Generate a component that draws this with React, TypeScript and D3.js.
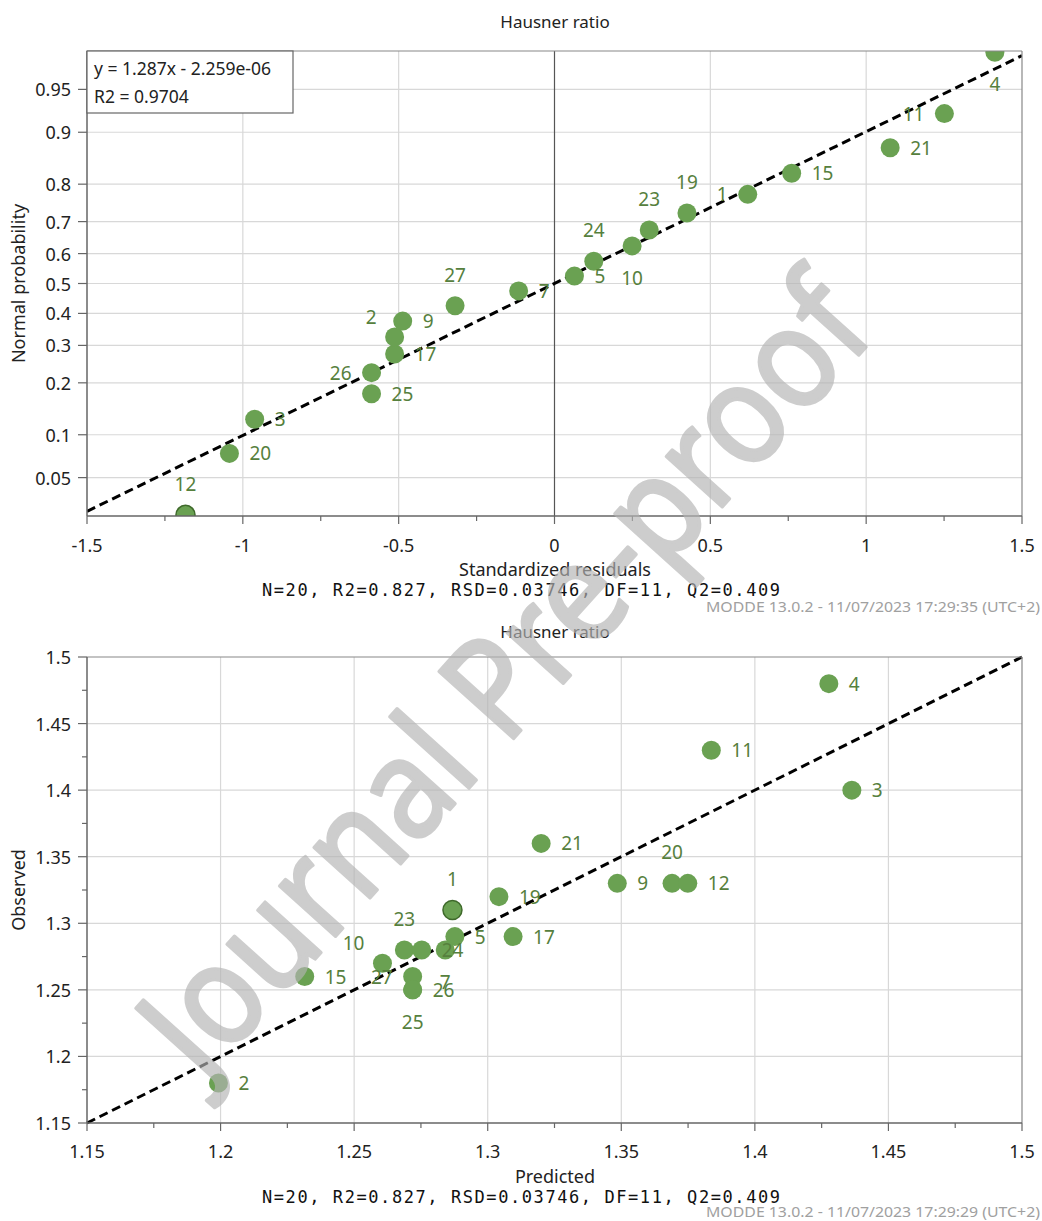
import React from "react";
import * as d3 from "d3";

// ---------- Data: normal probability plot (top) ----------
const npLabels = ["12","20","3","25","26","17","2","9","27","7","5","24","10","23","19","1","15","21","11","4"];
const npResiduals = [-1.184,-1.043,-0.962,-0.587,-0.587,-0.513,-0.513,-0.487,-0.319,-0.115,0.064,0.126,0.249,0.304,0.425,0.620,0.761,1.077,1.251,1.413];
const npProbability = [0.025,0.075,0.125,0.175,0.225,0.275,0.325,0.375,0.425,0.475,0.525,0.575,0.625,0.675,0.725,0.775,0.825,0.875,0.925,0.975];
const npLabelPlace = ["a","r","r","r","l","r","ul","r","a","r","r","a","b","a","a","l","r","r","l","b"];
const npSelected = ["12"];
const npXTicks = [-1.5,-1,-0.5,0,0.5,1,1.5];
const npYTicks = [0.05,0.1,0.2,0.3,0.4,0.5,0.6,0.7,0.8,0.9,0.95];
const npFitSlope = 1.287;
const npFitIntercept = -2.259e-6;
const npLegend = ["y = 1.287x - 2.259e-06", "R2 = 0.9704"];

// ---------- Data: observed vs predicted (bottom) ----------
const opLabels = ["4","11","3","21","9","20","12","1","19","5","17","23","24","7","10","27","26","25","15","2"];
const opPredicted = [1.4277,1.3837,1.4363,1.320,1.3485,1.369,1.3749,1.2868,1.3042,1.2877,1.3095,1.2688,1.2753,1.2841,1.2606,1.2719,1.2719,1.2719,1.2315,1.1992];
const opObserved = [1.48,1.43,1.40,1.36,1.33,1.33,1.33,1.31,1.32,1.29,1.29,1.28,1.28,1.28,1.27,1.26,1.25,1.25,1.26,1.18];
const opLabelPlace = ["r","r","r","r","r","a","r","a","r","r","r","a","r","b","ul","l","r","b","r","r"];
const opSelected = ["1"];
const opTicks = [1.15,1.2,1.25,1.3,1.35,1.4,1.45,1.5];

const chartTitle = "Hausner ratio";
const statsLine = "N=20, R2=0.827, RSD=0.03746, DF=11, Q2=0.409";
const stampTop = "MODDE 13.0.2 - 11/07/2023 17:29:35 (UTC+2)";
const stampBottom = "MODDE 13.0.2 - 11/07/2023 17:29:29 (UTC+2)";
const watermark = "Journal Pre-proof";

// inverse normal CDF (Acklam)
function probit(p: number): number {
  const a = [-3.969683028665376e1, 2.209460984245205e2, -2.759285104469687e2, 1.38357751867269e2, -3.066479806614716e1, 2.506628277459239];
  const b = [-5.447609879822406e1, 1.615858368580409e2, -1.556989798598866e2, 6.680131188771972e1, -1.328068155288572e1];
  const c = [-7.784894002430293e-3, -3.223964580411365e-1, -2.400758277161838, -2.549732539343734, 4.374664141464968, 2.938163982698783];
  const d = [7.784695709041462e-3, 3.224671290700398e-1, 2.445134137142996, 3.754408661907416];
  const pl = 0.02425;
  if (p < pl) {
    const q = Math.sqrt(-2 * Math.log(p));
    return (((((c[0]*q+c[1])*q+c[2])*q+c[3])*q+c[4])*q+c[5]) / ((((d[0]*q+d[1])*q+d[2])*q+d[3])*q+1);
  }
  if (p > 1 - pl) {
    const q = Math.sqrt(-2 * Math.log(1 - p));
    return -(((((c[0]*q+c[1])*q+c[2])*q+c[3])*q+c[4])*q+c[5]) / ((((d[0]*q+d[1])*q+d[2])*q+d[3])*q+1);
  }
  const q = p - 0.5, r = q * q;
  return (((((a[0]*r+a[1])*r+a[2])*r+a[3])*r+a[4])*r+a[5])*q / (((((b[0]*r+b[1])*r+b[2])*r+b[3])*r+b[4])*r+1);
}

const FONT = "'Noto Sans', 'Open Sans', sans-serif";
const MONO = "'DejaVu Sans Mono', 'Liberation Mono', monospace";
const POINT_FILL = "#6aa152";
const POINT_STROKE = "#3f6a2b";
const LABEL_FILL = "#56803d";
const GRID = "#d8d8d8";
const AXIS = "#666";
const TXT = "#222";
const R = 9.5;
const TICK_FS = 18;
const TITLE_FS = 17;
const AXTITLE_FS = 18;
const LABEL_FS = 19;

const L = 87, RT = 1022;

function placeLabel(code: string, x: number, y: number) {
  switch (code) {
    case "r": return { x: x + 20, y, anchor: "start" };
    case "l": return { x: x - 20, y, anchor: "end" };
    case "a": return { x, y: y - 31, anchor: "middle" };
    case "b": return { x, y: y + 32, anchor: "middle" };
    case "ul": return { x: x - 18, y: y - 20, anchor: "end" };
    default: return { x: x + 20, y, anchor: "start" };
  }
}

function Labels({ xs, ys, labels, places }: any) {
  return (
    <g>
      {labels.map((lab: string, i: number) => {
        const p = placeLabel(places[i], xs[i], ys[i]);
        return (
          <text key={"l" + i} x={p.x} y={p.y} textAnchor={p.anchor} dominantBaseline="central"
            fontFamily={FONT} fontSize={LABEL_FS} fill={LABEL_FILL}>{lab}</text>
        );
      })}
    </g>
  );
}

export default function App() {
  // ---------- top plot scales ----------
  const T1 = 51, B1 = 516;
  const x1 = d3.scaleLinear().domain([-1.5, 1.5]).range([L, RT]);
  const z1 = d3.scaleLinear().domain([-1.97, 1.97]).range([B1, T1]);
  const y1 = (p: number) => z1(probit(p));
  const x1Minor = d3.range(-1.25, 1.5, 0.5);
  const fitLine = d3.line<number>().x((v) => x1(v)).y((v) => z1(npFitSlope * v + npFitIntercept));

  // ---------- bottom plot scales ----------
  const T2 = 657, B2 = 1123;
  const x2 = d3.scaleLinear().domain([1.15, 1.5]).range([L, RT]);
  const y2 = d3.scaleLinear().domain([1.15, 1.5]).range([B2, T2]);
  const minor2 = d3.range(1.175, 1.5, 0.05);
  const diag = d3.line<number>().x((v) => x2(v)).y((v) => y2(v));

  const npX = npResiduals.map((v) => x1(v));
  const npY = npProbability.map((p) => y1(p));
  const opX = opPredicted.map((v) => x2(v));
  const opY = opObserved.map((v) => y2(v));

  return (
    <svg width={1042} height={1221} style={{ position: "absolute", left: 0, top: 0, background: "#fff" }}
      xmlns="http://www.w3.org/2000/svg">
      <defs>
        <clipPath id="clipTop"><rect x={L} y={T1} width={RT - L} height={B1 - T1} /></clipPath>
        <clipPath id="clipBot"><rect x={L} y={T2} width={RT - L} height={B2 - T2} /></clipPath>
      </defs>
      <rect x={0} y={0} width={1042} height={1221} fill="#fff" />

      {/* ================= TOP PLOT ================= */}
      <text x={555} y={21} textAnchor="middle" dominantBaseline="central" fontFamily={FONT} fontSize={TITLE_FS} fill={TXT}>{chartTitle}</text>
      {npYTicks.map((t) => (
        <line key={"gy" + t} x1={L} x2={RT} y1={y1(t)} y2={y1(t)} stroke={GRID} strokeWidth={1.2} />
      ))}
      {npXTicks.filter((t) => t !== 0 && t > -1.5 && t < 1.5).map((t) => (
        <line key={"gx" + t} x1={x1(t)} x2={x1(t)} y1={T1} y2={B1} stroke={GRID} strokeWidth={1.2} />
      ))}
      <line x1={x1(0)} x2={x1(0)} y1={T1} y2={B1} stroke="#555" strokeWidth={1.2} />
      <path d={fitLine([-1.5, 1.5]) || ""} fill="none" stroke="#000" strokeWidth={3} strokeDasharray="9,5" clipPath="url(#clipTop)" />
      <g clipPath="url(#clipTop)">
        {npLabels.map((lab, i) => (
          <circle key={"p" + i} cx={npX[i]} cy={npY[i]} r={R} fill={POINT_FILL}
            stroke={npSelected.includes(lab) ? POINT_STROKE : "none"} strokeWidth={1.5} />
        ))}
      </g>
      <Labels xs={npX} ys={npY} labels={npLabels} places={npLabelPlace} />
      <line x1={L} x2={RT} y1={T1} y2={T1} stroke="#888" strokeWidth={1.2} />
      <line x1={RT} x2={RT} y1={T1} y2={B1} stroke="#888" strokeWidth={1.2} />
      <line x1={L} x2={L} y1={T1} y2={B1} stroke={AXIS} strokeWidth={1.5} />
      <line x1={L} x2={RT} y1={B1} y2={B1} stroke={AXIS} strokeWidth={1.5} />
      <rect x={L} y={T1} width={206} height={62} fill="#fff" stroke="#666" strokeWidth={1.2} />
      <text x={94} y={75} fontFamily={FONT} fontSize={17.5} fill={TXT}>{npLegend[0]}</text>
      <text x={94} y={103} fontFamily={FONT} fontSize={17.5} fill={TXT}>{npLegend[1]}</text>
      {npYTicks.map((t) => (
        <g key={"yt" + t}>
          <line x1={L - 9} x2={L} y1={y1(t)} y2={y1(t)} stroke={AXIS} strokeWidth={1.2} />
          <text x={71} y={y1(t)} textAnchor="end" dominantBaseline="central" fontFamily={FONT} fontSize={TICK_FS} fill={TXT}>{String(t)}</text>
        </g>
      ))}
      {npXTicks.map((t) => (
        <g key={"xt" + t}>
          <line x1={x1(t)} x2={x1(t)} y1={B1} y2={B1 + 8} stroke={AXIS} strokeWidth={1.2} />
          <text x={x1(t)} y={545} textAnchor="middle" dominantBaseline="central" fontFamily={FONT} fontSize={TICK_FS} fill={TXT}>{String(t)}</text>
        </g>
      ))}
      {x1Minor.map((t) => (
        <line key={"xm" + t} x1={x1(t)} x2={x1(t)} y1={B1} y2={B1 + 5} stroke={AXIS} strokeWidth={1.2} />
      ))}
      <text x={555} y={569} textAnchor="middle" dominantBaseline="central" fontFamily={FONT} fontSize={AXTITLE_FS} fill={TXT}>Standardized residuals</text>
      <text transform={`translate(18, ${(T1 + B1) / 2}) rotate(-90)`} textAnchor="middle" dominantBaseline="central" fontFamily={FONT} fontSize={AXTITLE_FS} fill={TXT}>Normal probability</text>
      <text x={262} y={590} dominantBaseline="central" fontFamily={MONO} fontSize={17} fill="#111" textLength={518} lengthAdjust="spacing">{statsLine}</text>
      <text x={1040} y={606} textAnchor="end" dominantBaseline="central" fontFamily={FONT} fontSize={15} fill="#a0a0a0" textLength={334} lengthAdjust="spacingAndGlyphs">{stampTop}</text>

      {/* ================= BOTTOM PLOT ================= */}
      <text x={555} y={631} textAnchor="middle" dominantBaseline="central" fontFamily={FONT} fontSize={TITLE_FS} fill={TXT}>{chartTitle}</text>
      {opTicks.filter((t) => t > 1.15 && t < 1.5).map((t) => (
        <g key={"g2" + t}>
          <line x1={L} x2={RT} y1={y2(t)} y2={y2(t)} stroke={GRID} strokeWidth={1.2} />
          <line x1={x2(t)} x2={x2(t)} y1={T2} y2={B2} stroke={GRID} strokeWidth={1.2} />
        </g>
      ))}
      <path d={diag([1.15, 1.5]) || ""} fill="none" stroke="#000" strokeWidth={3} strokeDasharray="9,5" />
      <g clipPath="url(#clipBot)">
        {opLabels.map((lab, i) => (
          <circle key={"q" + i} cx={opX[i]} cy={opY[i]} r={R} fill={POINT_FILL}
            stroke={opSelected.includes(lab) ? POINT_STROKE : "none"} strokeWidth={1.5} />
        ))}
      </g>
      <Labels xs={opX} ys={opY} labels={opLabels} places={opLabelPlace} />
      <line x1={L} x2={RT} y1={T2} y2={T2} stroke="#888" strokeWidth={1.2} />
      <line x1={RT} x2={RT} y1={T2} y2={B2} stroke="#888" strokeWidth={1.2} />
      <line x1={L} x2={L} y1={T2} y2={B2} stroke={AXIS} strokeWidth={1.5} />
      <line x1={L} x2={RT} y1={B2} y2={B2} stroke={AXIS} strokeWidth={1.5} />
      {opTicks.map((t) => (
        <g key={"t2" + t}>
          <line x1={L - 9} x2={L} y1={y2(t)} y2={y2(t)} stroke={AXIS} strokeWidth={1.2} />
          <text x={71} y={y2(t)} textAnchor="end" dominantBaseline="central" fontFamily={FONT} fontSize={TICK_FS} fill={TXT}>{String(t)}</text>
          <line x1={x2(t)} x2={x2(t)} y1={B2} y2={B2 + 8} stroke={AXIS} strokeWidth={1.2} />
          <text x={x2(t)} y={1151} textAnchor="middle" dominantBaseline="central" fontFamily={FONT} fontSize={TICK_FS} fill={TXT}>{String(t)}</text>
        </g>
      ))}
      {minor2.map((t) => (
        <g key={"m2" + t}>
          <line x1={L - 5} x2={L} y1={y2(t)} y2={y2(t)} stroke={AXIS} strokeWidth={1.2} />
          <line x1={x2(t)} x2={x2(t)} y1={B2} y2={B2 + 5} stroke={AXIS} strokeWidth={1.2} />
        </g>
      ))}
      <text x={555} y={1176} textAnchor="middle" dominantBaseline="central" fontFamily={FONT} fontSize={AXTITLE_FS} fill={TXT}>Predicted</text>
      <text transform={`translate(18, ${(T2 + B2) / 2}) rotate(-90)`} textAnchor="middle" dominantBaseline="central" fontFamily={FONT} fontSize={AXTITLE_FS} fill={TXT}>Observed</text>
      <text x={262} y={1197} dominantBaseline="central" fontFamily={MONO} fontSize={17} fill="#111" textLength={518} lengthAdjust="spacing">{statsLine}</text>
      <text x={1040} y={1211} textAnchor="end" dominantBaseline="central" fontFamily={FONT} fontSize={15} fill="#a0a0a0" textLength={334} lengthAdjust="spacingAndGlyphs">{stampBottom}</text>

      {/* watermark */}
      <text transform="translate(500, 672) rotate(-48)" textAnchor="middle" dominantBaseline="central"
        fontFamily={FONT} fontSize={140} fill="#b4b4b4" stroke="#b4b4b4" strokeWidth={3.5} strokeLinejoin="round"
        opacity={0.66} textLength={1010} lengthAdjust="spacingAndGlyphs">{watermark}</text>
    </svg>
  );
}
